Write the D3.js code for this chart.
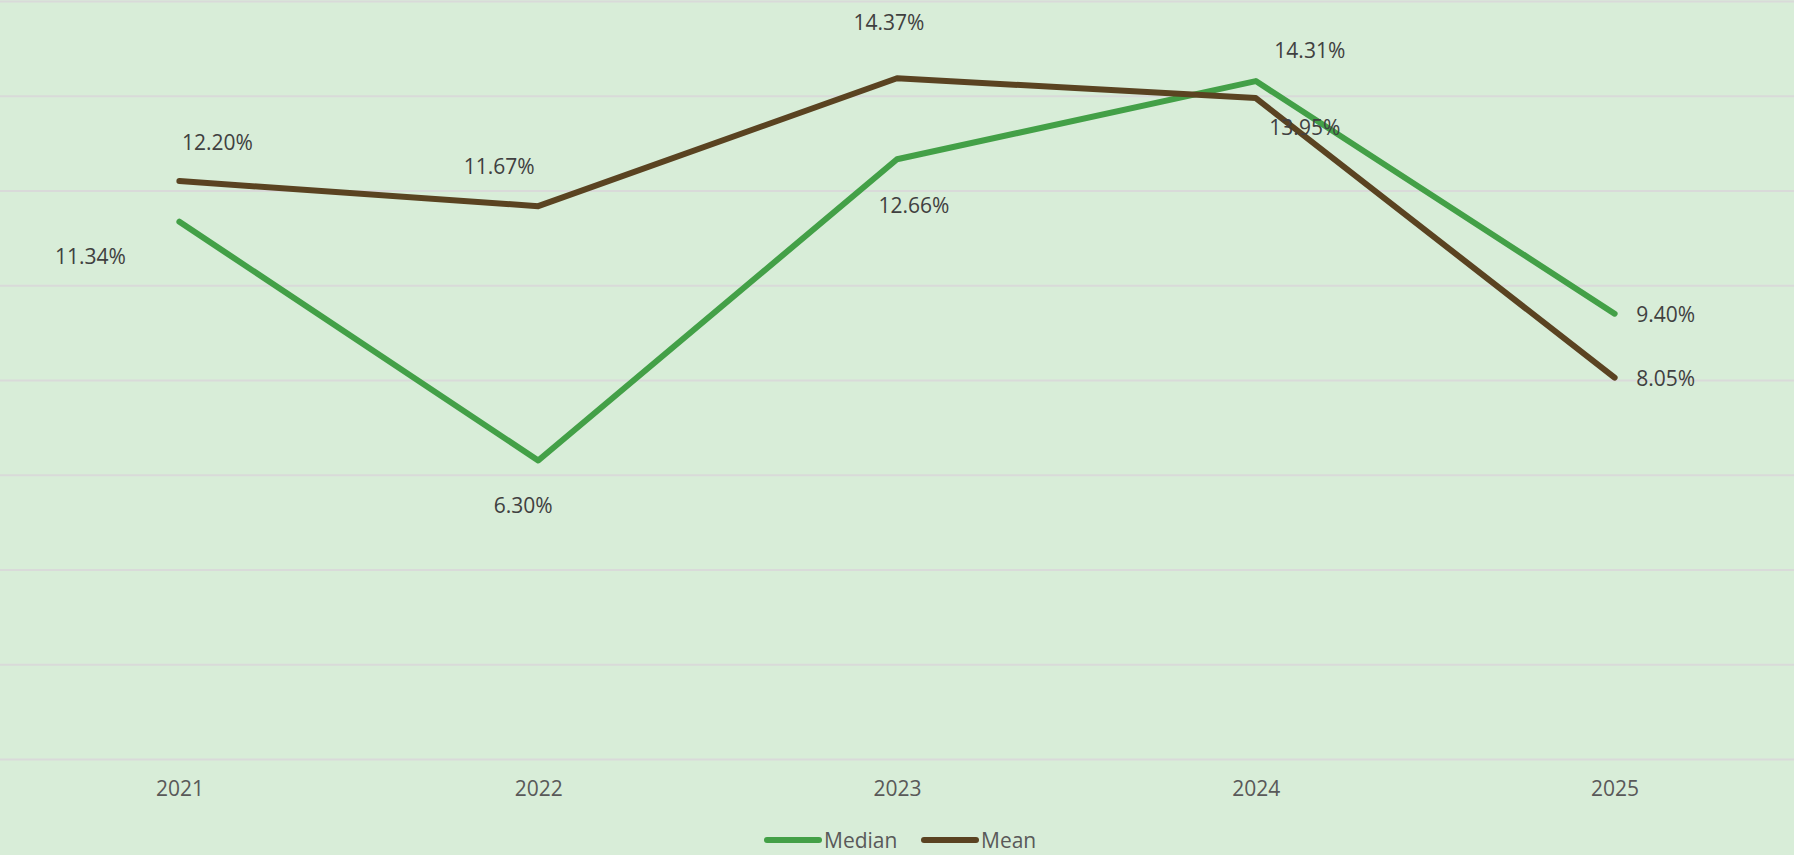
<!DOCTYPE html>
<html>
<head>
<meta charset="utf-8">
<script src="https://cdn.jsdelivr.net/npm/d3@7/dist/d3.min.js"></script>
<style>
  html, body { margin: 0; padding: 0; background: #D8EDD8; }
  svg { display: block; }
  text { font-family: "Open Sans", "Liberation Sans", sans-serif; }
</style>
</head>
<body>
<svg id="chart" width="1794" height="855"></svg>
<script>
// ---- data ----
const years = ["2021", "2022", "2023", "2024", "2025"];
const medianValues = [11.34, 6.30, 12.66, 14.31, 9.40];
const meanValues = [12.20, 11.67, 14.37, 13.95, 8.05];
const seriesNames = ["Median", "Mean"];
const yTickValues = [0, 2, 4, 6, 8, 10, 12, 14, 16];

// ---- layout (not data) ----
const W = 1794, H = 855;
const plotTop = 1, plotBottom = 759;
const colors = { Median: "#43A047", Mean: "#5A4321" };
// label offsets relative to each point, in px
const labelOffsets = {
  Median: [[-89, 35], [-15, 45], [17, 46], [54, -31], [51, 1]],
  Mean:   [[38, -39], [-39, -40], [-8, -56], [49, 29], [51, 1]]
};

const svg = d3.select("#chart");
svg.append("rect").attr("width", W).attr("height", H).attr("fill", "#D8EDD8");

const x = d3.scalePoint().domain(years).range([0, W]).padding(0.5);
const y = d3.scaleLinear().domain([0, 16]).range([plotBottom, plotTop]);

// gridlines
const grid = svg.append("g")
  .call(d3.axisLeft(y).tickValues(yTickValues).tickSize(-W).tickFormat(""));
grid.select(".domain").remove();
grid.selectAll(".tick line").attr("stroke", "#D9DAD9").attr("stroke-width", 2);

// x axis labels
const xAxis = svg.append("g").attr("transform", `translate(0,${plotBottom})`)
  .call(d3.axisBottom(x).tickSize(0).tickPadding(22));
xAxis.select(".domain").remove();
xAxis.selectAll("text").attr("font-size", 21).attr("fill", "#595959")
  .attr("font-family", "'Open Sans', 'Liberation Sans', sans-serif");

const series = [
  { name: "Median", values: medianValues },
  { name: "Mean", values: meanValues }
];

const line = d3.line().x((d, i) => x(years[i])).y(d => y(d));

svg.append("g").selectAll("path").data(series).join("path")
  .attr("d", s => line(s.values))
  .attr("fill", "none")
  .attr("stroke", s => colors[s.name])
  .attr("stroke-width", 6)
  .attr("stroke-linejoin", "round")
  .attr("stroke-linecap", "round");

// data labels
const fmt = v => v.toFixed(2) + "%";
series.forEach(s => {
  svg.append("g").selectAll("text").data(s.values).join("text")
    .attr("x", (d, i) => x(years[i]) + labelOffsets[s.name][i][0])
    .attr("y", (d, i) => y(d) + labelOffsets[s.name][i][1])
    .attr("dy", "0.36em")
    .attr("text-anchor", "middle")
    .attr("font-size", 21)
    .attr("fill", "#404040")
    .text(fmt);
});

// legend
const legendItems = [
  { name: seriesNames[0], lx: 765 },
  { name: seriesNames[1], lx: 922 }
];
const lg = svg.append("g").attr("transform", "translate(0,840)");
const li = lg.selectAll("g").data(legendItems).join("g")
  .attr("transform", d => `translate(${d.lx},0)`);
li.append("line").attr("x1", 2).attr("x2", 54).attr("y1", 0).attr("y2", 0)
  .attr("stroke", d => colors[d.name]).attr("stroke-width", 6).attr("stroke-linecap", "round");
li.append("text").attr("x", 59).attr("dy", "0.36em").attr("font-size", 21)
  .attr("fill", "#595959").text(d => d.name);
</script>
</body>
</html>
